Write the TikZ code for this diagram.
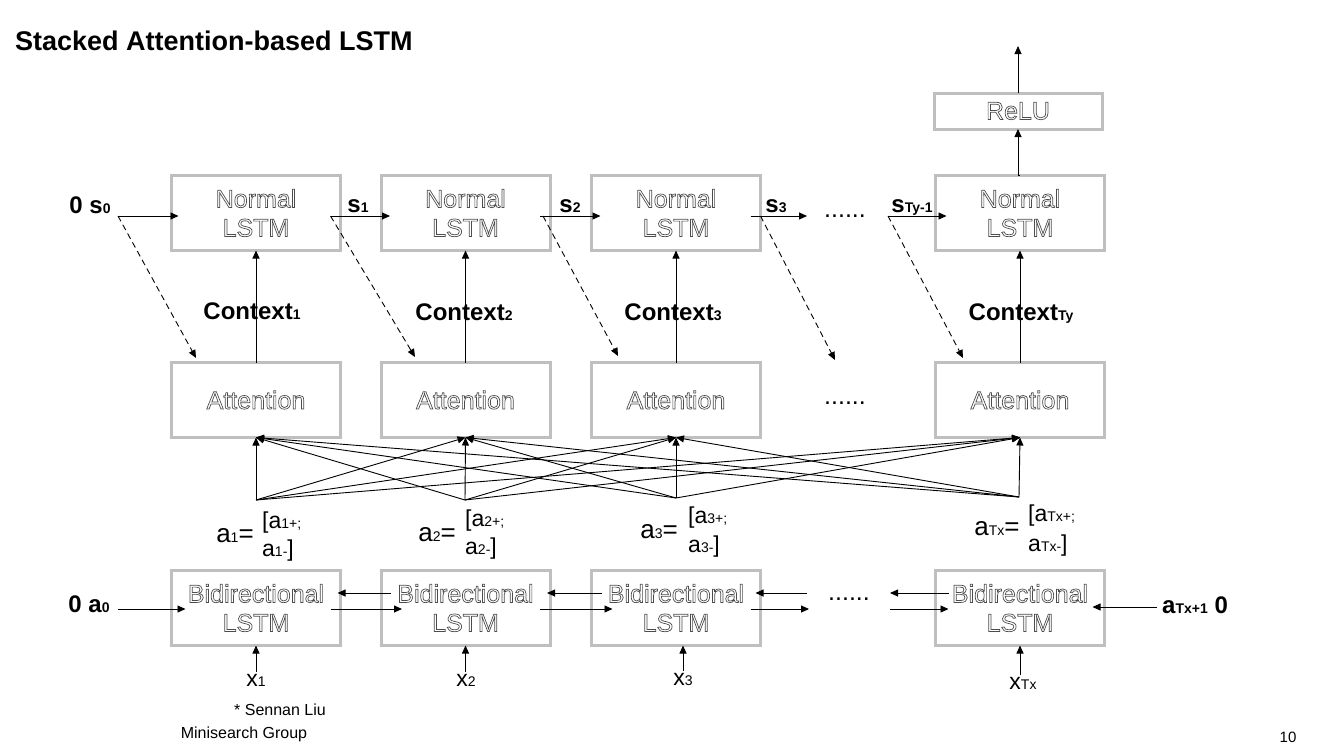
\documentclass[tikz,border=0pt]{standalone}
\usepackage{fontspec}
\setmainfont{Liberation Sans}
\usetikzlibrary{arrows.meta}
\definecolor{boxgray}{RGB}{191,191,191}
\newcommand{\outl}[1]{\special{pdf:literal direct 1 Tr 0.7 w 0.3 G}#1\special{pdf:literal direct 0 Tr 0 G}}
\newcommand{\smallsub}[1]{{\fontsize{14}{14}\selectfont #1}}
\tikzset{
  cell/.style={draw=boxgray, line width=3pt, minimum width=169pt, minimum height=75pt,
    outer sep=0pt, align=center, font=\fontsize{25}{29}\selectfont},
  link/.style={line width=0.9pt, -{Triangle[length=8pt,width=7pt]}},
  hint/.style={link, dash pattern=on 6pt off 4pt},
  lab/.style={font=\fontsize{24}{28}\selectfont\bfseries, inner sep=0pt, anchor=base},
  vec/.style={font=\fontsize{23}{27}\selectfont, inner sep=0pt},
  note/.style={font=\fontsize{16}{18}\selectfont, inner sep=0pt}
}
\begin{document}
\begin{tikzpicture}[x=1pt,y=-1pt]
\useasboundingbox (0,0) rectangle (1327,747);
\node[anchor=west, inner sep=0pt, font=\fontsize{27}{30}\selectfont\bfseries] (title) at (15,41) {Stacked Attention-based LSTM};
% decoder row
\node[cell] (n1) at (256,213) {\outl{Normal}\\\outl{LSTM}};
\node[cell] (n2) at (465.5,213) {\outl{Normal}\\\outl{LSTM}};
\node[cell] (n3) at (676,213) {\outl{Normal}\\\outl{LSTM}};
\node[cell] (n4) at (1020,213) {\outl{Normal}\\\outl{LSTM}};
\node[cell, minimum width=168pt, minimum height=36pt] (relu) at (1018,111) {\outl{ReLU}};
\coordinate (out) at (1018,46);
% attention row
\node[cell] (att1) at (256,400) {\outl{Attention}};
\node[cell] (att2) at (465.5,400) {\outl{Attention}};
\node[cell] (att3) at (676,400) {\outl{Attention}};
\node[cell] (att4) at (1020,400) {\outl{Attention}};
% encoder row
\node[cell] (b1) at (256,608) {\outl{Bidirectional}\\\outl{LSTM}};
\node[cell] (b2) at (465.5,608) {\outl{Bidirectional}\\\outl{LSTM}};
\node[cell] (b3) at (676,608) {\outl{Bidirectional}\\\outl{LSTM}};
\node[cell] (b4) at (1020,608) {\outl{Bidirectional}\\\outl{LSTM}};
\node[inner sep=0pt, font=\fontsize{25}{25}\selectfont] (dots1) at (845,216) {......};
\node[inner sep=0pt, font=\fontsize{25}{25}\selectfont] (dots2) at (845,403) {......};
\node[inner sep=0pt, font=\fontsize{25}{25}\selectfont] (dots3) at (849,599) {......};
% s states
\node[lab] (s0) at (90,213) {0 s\smallsub{0}};
\node[lab] (s1) at (358,212) {s\smallsub{1}};
\node[lab] (s2) at (570,212) {s\smallsub{2}};
\node[lab] (s3) at (776,212) {s\smallsub{3}};
\node[lab] (sT) at (912,212) {s\smallsub{Ty-1}};
\coordinate (o0) at (118,216);
\coordinate (o1) at ([xshift=-10pt,yshift=-3pt]n1.east);
\coordinate (o2) at ([xshift=-10pt,yshift=-3pt]n2.east);
\coordinate (o3) at ([xshift=-10pt,yshift=-3pt]n3.east);
\coordinate (o4) at (888,216);
\coordinate (q3) at (807,216);
\draw[link] (o0) -- ([xshift=7pt]n1.west |- o0);
\draw[link] (o1) -- ([xshift=9pt]n2.west |- o1);
\draw[link] (o2) -- ([xshift=9pt]n3.west |- o2);
\draw[link] (o3) -- (q3);
\draw[link] (o4) -- ([xshift=11pt]n4.west |- o4);
% dashed hints to attention
\coordinate (e1) at (196,358);
\coordinate (e2) at (415,357);
\coordinate (e3) at (618,356);
\coordinate (e4) at (835,360);
\coordinate (e5) at (963,358);
\draw[hint] (o0) -- (e1);
\draw[hint] (o1) -- (e2);
\draw[hint] ([xshift=3pt]o2) -- (e3);
\draw[hint] ([xshift=10pt]o3) -- (e4);
\draw[hint] (o4) -- (e5);
% context
\draw[link] (att1.north) -- (n1.south);
\draw[link] (att2.north) -- (n2.south);
\draw[link] (att3.north) -- (n3.south);
\draw[link] (att4.north) -- (n4.south);
\draw[link] (n4.north) -- (n4.north -| relu.south) -- (relu.south);
\draw[link] (relu.north) -- (out);
\node[lab] (c1) at (252,319) {Context\smallsub{1}};
\node[lab] (c2) at (464,320) {Context\smallsub{2}};
\node[lab] (c3) at (673,320) {Context\smallsub{3}};
\node[lab] (c4) at (1021,320) {Context\smallsub{Ty}};
% annotations a
\coordinate (p1) at (256,500);
\coordinate (p2) at (465,500);
\coordinate (p3) at (676,498);
\coordinate (p4) at (1019,497);
\draw[link] (p1) -- (att1.south); \draw[link] (p1) -- (att2.south); \draw[link] (p1) -- (att3.south); \draw[link] (p1) -- (att4.south);
\draw[link] (p2) -- (att1.south); \draw[link] (p2) -- (att2.south); \draw[link] (p2) -- (att3.south); \draw[link] (p2) -- (att4.south);
\draw[link] (p3) -- (att1.south); \draw[link] (p3) -- (att2.south); \draw[link] (p3) -- (att3.south); \draw[link] (p3) -- (att4.south);
\draw[link] (p4) -- (att1.south); \draw[link] (p4) -- (att2.south); \draw[link] (p4) -- (att3.south); \draw[link] (p4) -- (att4.south);
\node[vec, font=\fontsize{26}{30}\selectfont] (v1) at (235,536) {a\smallsub{1}=};
\node[vec, anchor=west] (v1p) at (262,523) {[a\smallsub{1+;}};
\node[vec, anchor=west] (v1m) at (262,551) {a\smallsub{1-}]};
\node[vec, font=\fontsize{26}{30}\selectfont] (v2) at (437,535) {a\smallsub{2}=};
\node[vec, anchor=west] (v2p) at (465,521) {[a\smallsub{2+;}};
\node[vec, anchor=west] (v2m) at (465,549) {a\smallsub{2-}]};
\node[vec, font=\fontsize{26}{30}\selectfont] (v3) at (659,532) {a\smallsub{3}=};
\node[vec, anchor=west] (v3p) at (688,518) {[a\smallsub{3+;}};
\node[vec, anchor=west] (v3m) at (688,547) {a\smallsub{3-}]};
\node[vec, font=\fontsize{26}{30}\selectfont] (v4) at (997,529) {a\smallsub{Tx}=};
\node[vec, anchor=west] (v4p) at (1028,516) {[a\smallsub{Tx+;}};
\node[vec, anchor=west] (v4m) at (1028,546) {a\smallsub{Tx-}]};
% encoder links
\node[lab] (a0) at (89,612) {0 a\smallsub{0}};
\node[lab] (aT) at (1195,613) {a\smallsub{Tx+1} 0};
\coordinate (i0) at (118,609);
\coordinate (iT) at (1157,607);
\draw[link] (i0) -- ([xshift=14pt]b1.west |- i0);
\draw[link] (iT) -- ([xshift=-12pt]b4.east |- iT);
\draw[link] ([xshift=-10pt,yshift=-1pt]b1.east) -- ([xshift=21pt,yshift=-1pt]b2.west);
\draw[link] ([xshift=-10pt,yshift=-1pt]b2.east) -- ([xshift=21pt,yshift=-1pt]b3.west);
\draw[link] ([xshift=-10pt,yshift=-1pt]b3.east) -- (809,609);
\draw[link] (890,609) -- ([xshift=13pt,yshift=-1pt]b4.west);
\draw[link] ([xshift=10pt,yshift=15pt]b2.west) -- ([xshift=-3pt,yshift=15pt]b1.east);
\draw[link] ([xshift=10pt,yshift=15pt]b3.west) -- ([xshift=-3pt,yshift=15pt]b2.east);
\draw[link] (807,593) -- ([xshift=-5pt,yshift=15pt]b3.east);
\draw[link] ([xshift=13pt,yshift=15pt]b4.west) -- (890,593);
% inputs
\node[vec, inner sep=2pt] (x1) at (256,680) {x\smallsub{1}};
\node[vec, inner sep=2pt] (x2) at (466,680) {x\smallsub{2}};
\node[vec, inner sep=2pt] (x3) at (683,679) {x\smallsub{3}};
\node[vec, inner sep=2pt] (x4) at (1023,683) {x\smallsub{Tx}};
\draw[link] (x1.north) -- (b1.south);
\draw[link] (x2.north -| b2.south) -- (b2.south);
\draw[link] (x3.north) -- (x3.north |- b3.south);
\draw[link] (x4.north -| b4.south) -- (b4.south);
% footer
\node[note] (author) at (280,710) {* Sennan Liu};
\node[note] (group) at (244,734) {Minisearch Group};
\node[note, font=\fontsize{15}{17}\selectfont] (page) at (1288,737) {10};
\end{tikzpicture}
\end{document}
